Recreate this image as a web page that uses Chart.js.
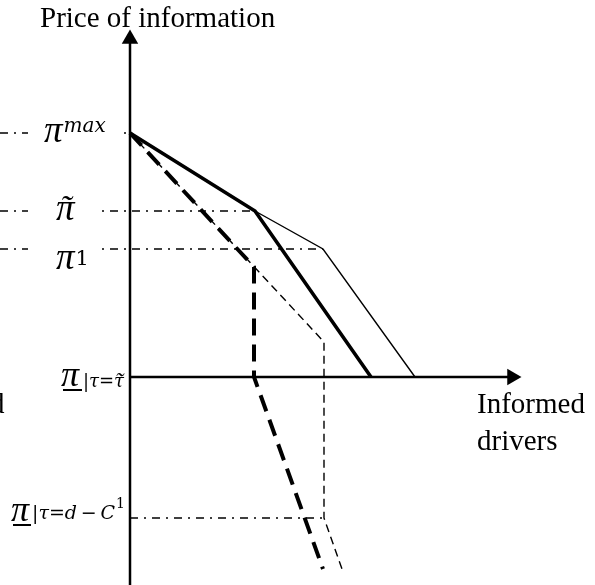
<!DOCTYPE html>
<html>
<head>
<meta charset="utf-8">
<script src="https://cdn.jsdelivr.net/npm/chart.js@4"></script>
<style>
  html, body { margin: 0; padding: 0; background: #fff; }
  canvas { display: block; }
</style>
</head>
<body>
<canvas id="chartPrice" width="595" height="585"></canvas>
<script>
// price levels (origin = where the two axes cross)
const priceMax = 244;
const priceTilde = 166;
const priceOne = 128;
const priceFloorTilde = 0;
const priceFloorD = -141;

// informed drivers / price at the kinks of each curve
const thickSolidX = [0, 125, 241];
const thickSolidY = [244, 166, 0];
const thinSolidX = [0, 125, 193, 285];
const thinSolidY = [244, 166, 128, 0];
const thinDashX = [0, 194, 194, 212];
const thinDashY = [244, 35, -141, -192];
const thickDashX = [0, 124, 124, 193];
const thickDashY = [244, 110, 0, -192];

// guide lines (dash-dot) : start x, end x, level
const guideStartX = [-130, -130, -130, 0];
const guideEndX = [0, 125, 193, 194];
const guideLevel = [priceMax, priceTilde, priceOne, priceFloorD];

// axes extent
const xRange = [-130, 465];
const yRange = [-208, 377];
const yAxisTop = 338;
const xAxisEnd = 382;

const pts = (xs, ys) => xs.map((x, i) => ({ x: x, y: ys[i] }));

const line = (data, width, dash) => ({
  data: data, showLine: true, borderColor: '#000', borderWidth: width,
  borderDash: dash || [], pointRadius: 0, fill: false, tension: 0
});

const datasets = [];
guideLevel.forEach((lv, i) => {
  datasets.push(line(pts([guideStartX[i], guideEndX[i]], [lv, lv]), 1.3, [8, 6, 2, 6]));
});
datasets.push(line(pts([0, 0], [yRange[0], yAxisTop]), 2.5));
datasets.push(line(pts([0, xAxisEnd], [0, 0]), 2.5));
datasets.push(line(pts(thinSolidX, thinSolidY), 1.4));
datasets.push(line(pts(thickSolidX, thickSolidY), 3.6));
datasets.push(line(pts(thinDashX, thinDashY), 1.4, [8, 5]));
datasets.push(line(pts(thickDashX, thickDashY), 4, [17, 9]));
// arrow heads
datasets.push({ data: [{ x: 0, y: yAxisTop }], pointStyle: 'triangle', pointRadius: 9.5, pointRotation: 0, backgroundColor: '#000', borderWidth: 0, showLine: false });
datasets.push({ data: [{ x: xAxisEnd, y: 0 }], pointStyle: 'triangle', pointRadius: 9.5, pointRotation: 90, backgroundColor: '#000', borderWidth: 0, showLine: false });

const serif = '"Liberation Serif", "Times New Roman", serif';
const math = '"DejaVu Serif", serif';

const labelPlugin = {
  id: 'labels',
  afterDraw(chart) {
    const c = chart.ctx;
    const sy = v => chart.scales.y.getPixelForValue(v);
    c.save();
    c.textBaseline = 'alphabetic';
    c.textAlign = 'left';

    // white boxes where the guides pass under the labels
    c.fillStyle = '#fff';
    c.fillRect(28, sy(priceMax) - 14, 94, 28);
    c.fillRect(28, sy(priceTilde) - 12, 72, 24);
    c.fillRect(28, sy(priceOne) - 12, 72, 24);
    c.fillStyle = '#000';

    c.font = '29px ' + serif;
    c.fillText('Price of information', 40, 27);
    c.fillText('Informed', 477, 413);
    c.fillText('drivers', 477, 450);
    c.fillText('d', -10, 413);

    const pi = (x, base, size) => {
      c.font = 'italic ' + size + 'px ' + serif;
      c.fillText('π', x, base);
      return c.measureText('π').width;
    };

    // π^max
    let y = sy(priceMax);
    let w = pi(44, y + 9, 37);
    c.font = 'italic 20px ' + math;
    c.fillText('max', 45 + w, y - 1);

    // π tilde
    y = sy(priceTilde);
    pi(56, y + 9, 37);
    c.font = 'italic 34px ' + serif;
    c.fillText('\u02DC', 60, y + 8);

    // π^1
    y = sy(priceOne);
    w = pi(56, y + 20, 37);
    c.font = '21px ' + math;
    c.fillText('1', 57 + w, y + 16);

    // π underlined, |τ = τ tilde
    y = sy(priceFloorTilde);
    w = pi(61, y + 9, 36);
    c.fillRect(63, y + 12, 19, 2);
    c.font = 'italic 18px ' + math;
    c.fillText('|τ=τ', 83, y + 10);
    const tw = c.measureText('|τ=').width;
    c.font = 'italic 24px ' + serif;
    c.fillText('\u02DC', 84 + tw, y + 12);

    // π underlined, |τ = d − C^1
    y = sy(priceFloorD);
    w = pi(11, y + 3, 36);
    c.fillRect(13, y + 6, 18, 2);
    c.font = 'italic 19px ' + math;
    const sub = '|τ=d\u2009−\u2009C';
    c.fillText(sub, 32, y + 1);
    const sw = c.measureText(sub).width;
    c.font = '14px ' + math;
    c.fillText('1', 33 + sw, y - 10);

    c.restore();
  }
};

new Chart(document.getElementById('chartPrice').getContext('2d'), {
  type: 'scatter',
  data: { datasets: datasets },
  options: {
    responsive: false,
    animation: false,
    devicePixelRatio: 1,
    layout: { padding: 0, autoPadding: false },
    plugins: { legend: { display: false }, tooltip: { enabled: false } },
    scales: {
      x: { type: 'linear', min: xRange[0], max: xRange[1], display: false },
      y: { type: 'linear', min: yRange[0], max: yRange[1], display: false }
    },
    elements: { line: { borderCapStyle: 'butt', borderJoinStyle: 'miter' } }
  },
  plugins: [labelPlugin]
});
</script>
</body>
</html>
